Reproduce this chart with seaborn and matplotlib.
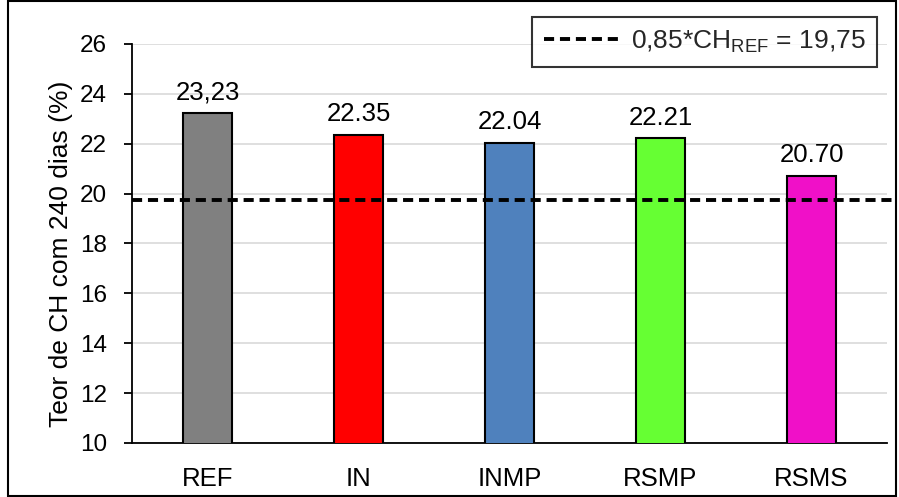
import matplotlib
matplotlib.use("Agg")
import matplotlib.pyplot as plt
import seaborn as sns
import pandas as pd
from matplotlib.patches import Rectangle

categories = ["REF", "IN", "INMP", "RSMP", "RSMS"]
values = [23.23, 22.35, 22.04, 22.21, 20.70]
value_labels = ["23,23", "22.35", "22.04", "22.21", "20.70"]
colors = ["#808080", "#ff0000", "#4f81bd", "#66ff33", "#f010c8"]
ref_line = 19.75
ref_label = "0,85*CH$_{\\mathregular{REF}}$ = 19,75"
y_ticks = [10, 12, 14, 16, 18, 20, 22, 24, 26]

sns.set_theme(style="white")
plt.rcParams['font.family'] = ['Liberation Sans', 'DejaVu Sans']
plt.rcParams['mathtext.fontset'] = 'custom'
plt.rcParams['mathtext.rm'] = 'Liberation Sans'

df = pd.DataFrame({"cat": categories, "val": values})

fig = plt.figure(figsize=(8.99, 4.97), dpi=100)
ax = fig.add_axes([0.1468, 0.1087, 0.9867 - 0.1468, 0.9115 - 0.1087])

sns.barplot(data=df, x="cat", y="val", hue="cat", palette=colors, legend=False,
            saturation=1, width=0.32, edgecolor="black", linewidth=1.5, ax=ax, zorder=3)

ax.set_ylim(10, 26)
ax.set_yticks(y_ticks)
ax.set_xlim(-0.5, 4.5)
ax.yaxis.grid(True, color="#d9d9d9", linewidth=1.2, zorder=0)
ax.set_axisbelow(True)

for i, (v, lab) in enumerate(zip(values, value_labels)):
    ax.annotate(lab, (i, v), xytext=(0, 10), textcoords="offset points",
                ha="center", va="baseline", fontsize=18.5, color="black")

line = ax.axhline(ref_line, color="black", linestyle=(0, (2.6, 1.5)), linewidth=2.8,
                  zorder=4, xmin=0, xmax=1.008, clip_on=False, label=ref_label)

for s in ["top", "right"]:
    ax.spines[s].set_visible(False)
for s in ["left", "bottom"]:
    ax.spines[s].set_color("black")
    ax.spines[s].set_linewidth(1.3)

ax.tick_params(axis="y", which="major", left=True, length=6, width=1.3,
               direction="out", labelsize=17.5, colors="black", pad=12)
ax.tick_params(axis="x", bottom=False, labelsize=18.5, colors="black", pad=11)
ax.set_xlabel("")
ax.set_ylabel("Teor de CH com 240 dias (%)", fontsize=19, color="black")
ax.yaxis.set_label_coords(-0.078, 0.475)

leg = ax.legend(handles=[line], loc="upper right", bbox_to_anchor=(0.987, 1.068),
                borderaxespad=0, fontsize=19, frameon=True, fancybox=False,
                edgecolor="black", handlelength=2.8, borderpad=0.45, handletextpad=0.5)
leg.get_frame().set_linewidth(1.5)

fig.patches.append(Rectangle((0.009, 0.003), 0.988, 0.994, transform=fig.transFigure,
                             fill=False, edgecolor="black", linewidth=1.5))

fig.savefig("out.png", dpi=100)
